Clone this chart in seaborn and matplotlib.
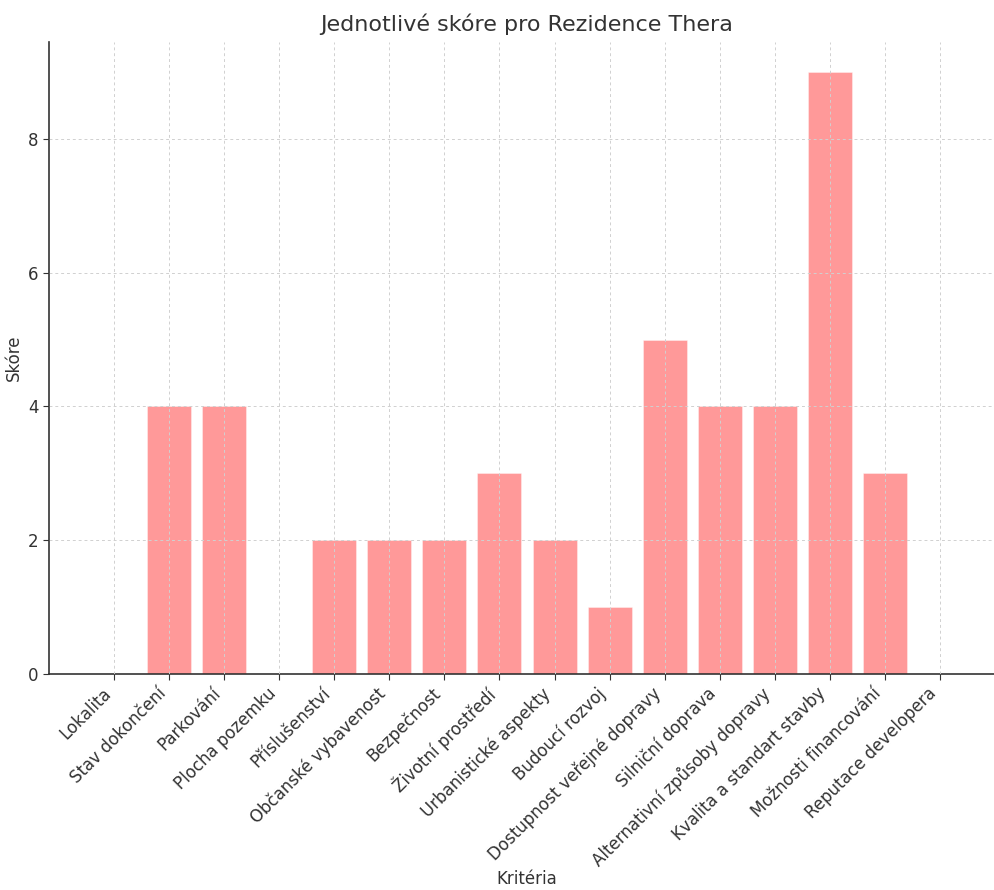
import matplotlib
matplotlib.use("Agg")
import matplotlib.pyplot as plt
import seaborn as sns
import pandas as pd

criteria = [
    "Lokalita",
    "Stav dokončení",
    "Parkování",
    "Plocha pozemku",
    "Příslušenství",
    "Občanské vybavenost",
    "Bezpečnost",
    "Životní prostředí",
    "Urbanistické aspekty",
    "Budoucí rozvoj",
    "Dostupnost veřejné dopravy",
    "Silniční doprava",
    "Alternativní způsoby dopravy",
    "Kvalita a standart stavby",
    "Možnosti financování",
    "Reputace developera",
]
scores = [0, 4, 4, 0, 2, 2, 2, 3, 2, 1, 5, 4, 4, 9, 3, 0]

df = pd.DataFrame({"Kritéria": criteria, "Skóre": scores})

sns.set_style("white")
plt.rcParams["font.family"] = ["DejaVu Sans"]
text_color = "#333333"

fig = plt.figure(figsize=(9.94, 8.9), dpi=100)
ax = fig.add_axes([49 / 994, 216 / 890, 956 / 994, 632 / 890])

sns.barplot(data=df, x="Kritéria", y="Skóre", color="red", alpha=0.4,
            saturation=1, width=0.8, edgecolor="white", linewidth=0.6, ax=ax)
ax.set_xlim(-1.19, 16.19)
ax.set_ylim(0, 9.45)

ax.grid(True, linestyle=(0, (3, 3)), color="#d0d0d0", linewidth=0.7)
ax.set_axisbelow(False)
for s in ["top", "right"]:
    ax.spines[s].set_visible(False)
for s in ["left", "bottom"]:
    ax.spines[s].set_color(text_color)
    ax.spines[s].set_linewidth(1.2)

ax.set_yticks([0, 2, 4, 6, 8])
ax.tick_params(axis="both", colors=text_color, labelsize=12, length=4,
               direction="out", bottom=True, left=True)
plt.setp(ax.get_xticklabels(), rotation=45, ha="right")

ax.set_title("Jednotlivé skóre pro Rezidence Thera", fontsize=16,
             color=text_color, pad=8)
ax.set_xlabel("Kritéria", fontsize=12, color=text_color, labelpad=0)
ax.set_ylabel("Skóre", fontsize=12, color=text_color)

fig.savefig("out.png", dpi=100)
